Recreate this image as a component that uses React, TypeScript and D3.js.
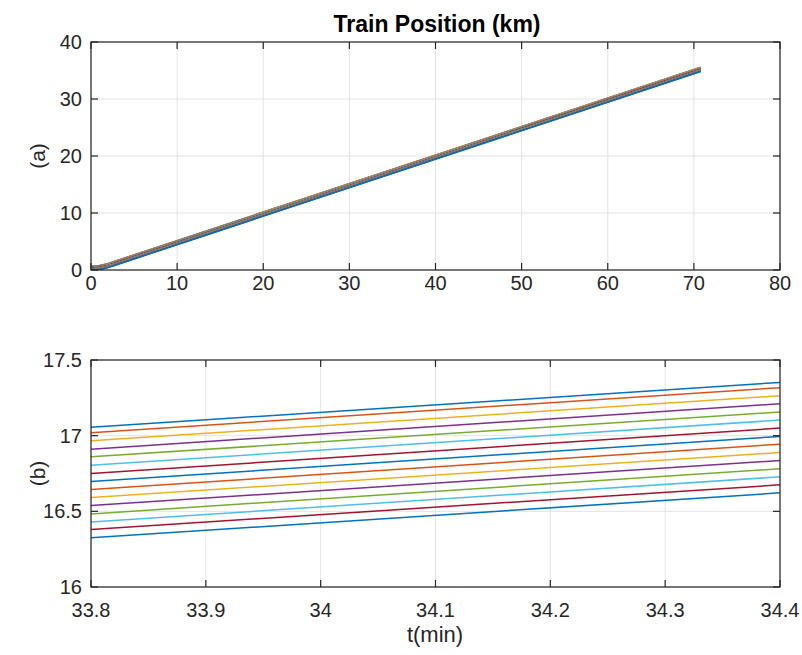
import React from "react";
import * as d3 from "d3";

// ---- data ----
const colors = ["#0072BD", "#D95319", "#EDB120", "#7E2F8E", "#77AC30", "#4DBEEE", "#A2142F"];

const topTimes = [0, 1, 2, 3, 70.8];
const topPositions: number[][] = [
  [0.66, 0.78, 1.16, 1.66, 35.56],
  [0.62, 0.74, 1.12, 1.62, 35.52],
  [0.57, 0.69, 1.07, 1.57, 35.47],
  [0.51, 0.64, 1.01, 1.51, 35.41],
  [0.46, 0.59, 0.96, 1.46, 35.36],
  [0.41, 0.53, 0.91, 1.41, 35.31],
  [0.35, 0.48, 0.85, 1.35, 35.25],
  [0.3, 0.42, 0.8, 1.3, 35.2],
  [0.24, 0.37, 0.74, 1.24, 35.14],
  [0.19, 0.32, 0.69, 1.19, 35.09],
  [0.14, 0.26, 0.64, 1.14, 35.04],
  [0.08, 0.21, 0.58, 1.08, 34.98],
  [0.03, 0.16, 0.53, 1.03, 34.93],
  [0.0, 0.11, 0.48, 0.98, 34.88],
  [0.0, 0.05, 0.43, 0.93, 34.83],
];

const bottomTimes = [33.8, 34.4];
const posAtStart = [17.055, 17.019, 16.966, 16.911, 16.86, 16.805, 16.75, 16.697, 16.644, 16.591, 16.538, 16.483, 16.43, 16.38, 16.325];
const posAtEnd = [17.352, 17.317, 17.264, 17.211, 17.156, 17.103, 17.05, 16.995, 16.944, 16.889, 16.836, 16.781, 16.728, 16.675, 16.622];

const topXTicks = [0, 10, 20, 30, 40, 50, 60, 70, 80];
const topYTicks = [0, 10, 20, 30, 40];
const botXTicks = [33.8, 33.9, 34, 34.1, 34.2, 34.3, 34.4];
const botYTicks = [16, 16.5, 17, 17.5];

const title = "Train Position (km)";
const xLabel = "t(min)";

// ---- layout ----
const W = 802, H = 655;
const L = 91, R = 780;
const FONT = "'Liberation Sans', Arial, Helvetica, sans-serif";
const AX = "#262626";
const GRID = "#e3e3e3";
const TICK = 7;
const TFS = 20;

type PanelProps = {
  id: string;
  top: number; bottom: number;
  xDomain: [number, number]; yDomain: [number, number];
  xTicks: number[]; yTicks: number[];
  series: { t: number[]; v: number[] }[];
  ylab: string;
  xLabOffset: number;
};

function Panel(p: PanelProps) {
  const x = d3.scaleLinear().domain(p.xDomain).range([L, R]);
  const y = d3.scaleLinear().domain(p.yDomain).range([p.bottom, p.top]);
  const line = d3.line<[number, number]>().x(d => x(d[0])).y(d => y(d[1]));
  const fmt = (v: number) => String(Math.round(v * 10) / 10);
  return (
    <g>
      <defs>
        <clipPath id={p.id}>
          <rect x={L} y={p.top} width={R - L} height={p.bottom - p.top} />
        </clipPath>
      </defs>
      <rect x={L} y={p.top} width={R - L} height={p.bottom - p.top} fill="#fff" />
      {p.xTicks.map((t, i) => (
        <line key={"gx" + i} x1={x(t)} x2={x(t)} y1={p.top} y2={p.bottom} stroke={GRID} strokeWidth={1} />
      ))}
      {p.yTicks.map((t, i) => (
        <line key={"gy" + i} x1={L} x2={R} y1={y(t)} y2={y(t)} stroke={GRID} strokeWidth={1} />
      ))}
      <g clipPath={`url(#${p.id})`}>
        {p.series.map((s, i) => (
          <path key={i} d={line(s.t.map((t, j) => [t, s.v[j]] as [number, number])) || ""}
            fill="none" stroke={colors[i % colors.length]} strokeWidth={1.5} />
        ))}
      </g>
      <rect x={L} y={p.top} width={R - L} height={p.bottom - p.top} fill="none" stroke={AX} strokeWidth={1.2} />
      {p.xTicks.map((t, i) => (
        <g key={"tx" + i}>
          <line x1={x(t)} x2={x(t)} y1={p.bottom} y2={p.bottom - TICK} stroke={AX} strokeWidth={1.2} />
          <line x1={x(t)} x2={x(t)} y1={p.top} y2={p.top + TICK} stroke={AX} strokeWidth={1.2} />
          <text x={x(t)} y={p.bottom + p.xLabOffset} textAnchor="middle" fontSize={TFS} fill={AX} fontFamily={FONT}>{fmt(t)}</text>
        </g>
      ))}
      {p.yTicks.map((t, i) => (
        <g key={"ty" + i}>
          <line x1={L} x2={L + TICK} y1={y(t)} y2={y(t)} stroke={AX} strokeWidth={1.2} />
          <line x1={R} x2={R - TICK} y1={y(t)} y2={y(t)} stroke={AX} strokeWidth={1.2} />
          <text x={L - 9} y={y(t) + 7} textAnchor="end" fontSize={TFS} fill={AX} fontFamily={FONT}>{fmt(t)}</text>
        </g>
      ))}
      <text transform={`translate(45,${(p.top + p.bottom) / 2}) rotate(-90)`} textAnchor="middle"
        fontSize={21} fill={AX} fontFamily={FONT}>{p.ylab}</text>
    </g>
  );
}

export default function App() {
  const topSeries = topPositions.map(v => ({ t: topTimes, v }));
  const botSeries = posAtStart.map((s, i) => ({ t: bottomTimes, v: [s, posAtEnd[i]] }));
  return (
    <svg width={W} height={H} style={{ position: "absolute", left: 0, top: 0, background: "#fff" }}>
      <rect width={W} height={H} fill="#fff" />
      <text x={437} y={32} textAnchor="middle" fontSize={23} fontWeight="bold" fill="#000" fontFamily={FONT}>{title}</text>
      <Panel id="clipTop" top={42} bottom={270} xDomain={[0, 80]} yDomain={[0, 40]}
        xTicks={topXTicks} yTicks={topYTicks} series={topSeries} ylab="(a)" xLabOffset={20} />
      <Panel id="clipBot" top={360} bottom={587} xDomain={[33.8, 34.4]} yDomain={[16, 17.5]}
        xTicks={botXTicks} yTicks={botYTicks} series={botSeries} ylab="(b)" xLabOffset={30} />
      <text x={435} y={642} textAnchor="middle" fontSize={22} fill={AX} fontFamily={FONT}>{xLabel}</text>
    </svg>
  );
}
